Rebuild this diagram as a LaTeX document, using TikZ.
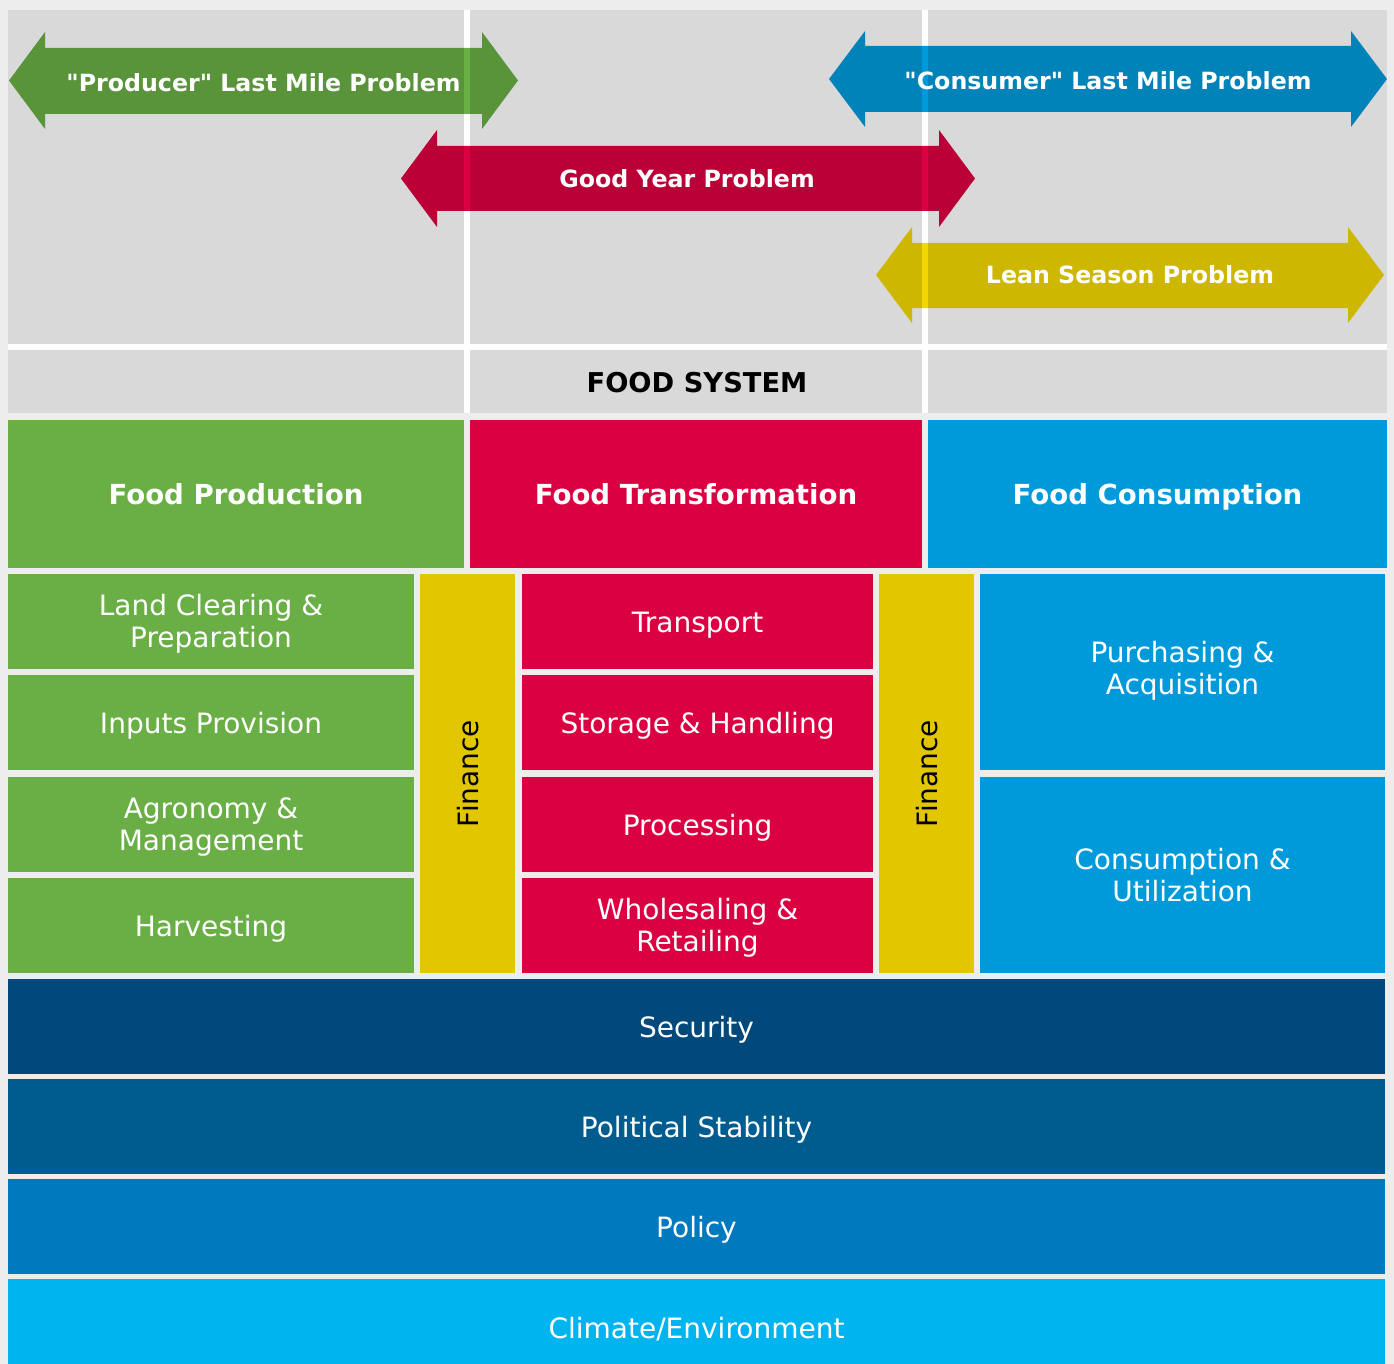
\documentclass[tikz,border=0pt]{standalone}
\usepackage{fontspec}
\setmainfont{DejaVu Sans}
\usepackage{xcolor}

\definecolor{bggray}{HTML}{EDEDED}
\definecolor{panelgray}{HTML}{D9D9D9}
\definecolor{prodgreen}{HTML}{69AF46}
\definecolor{transred}{HTML}{DB0041}
\definecolor{consblue}{HTML}{009ADA}
\definecolor{finyellow}{HTML}{E2C700}
\definecolor{leanyellow}{HTML}{F3D800}
\definecolor{secblue}{HTML}{00497A}
\definecolor{polblue}{HTML}{005B8F}
\definecolor{policyblue}{HTML}{0079BE}
\definecolor{climblue}{HTML}{00B4EF}

\begin{document}
\begin{tikzpicture}[x=1pt, y=-1pt,
  cell/.style={inner sep=0pt, align=center, text=white, font=\fontsize{28}{32}\selectfont,
    text height=21pt, text depth=0pt},
  twoline/.style={cell, text height=53pt, text depth=1pt},
  head/.style={cell, font=\bfseries\fontsize{27.6}{32}\selectfont},
  problem/.style={inner sep=0pt, text=white, font=\bfseries\fontsize{23.7}{28}\selectfont}]
\useasboundingbox (0,0) rectangle (1394,1364);
\fill[bggray] (0,0) rectangle (1394,1364);

% Grey panel with white dividers
\fill[panelgray] (8,10) rectangle (1387,413);
\fill[white] (8,344) rectangle (1387,350);
\fill[white] (464,10) rectangle (470,413);
\fill[white] (922,10) rectangle (928,413);

% Problem arrows
\begin{scope}[blend mode=multiply]
\fill[prodgreen] (9,80.5) -- (45,32) -- (45,48) -- (482,48) -- (482,32) -- (518,80.5)
  -- (482,129) -- (482,114) -- (45,114) -- (45,129) -- cycle;
\fill[transred] (401,178.5) -- (437,130) -- (437,146) -- (939,146) -- (939,130) -- (975,178.5)
  -- (939,227) -- (939,211) -- (437,211) -- (437,227) -- cycle;
\fill[consblue] (829,79) -- (865,31) -- (865,46) -- (1351,46) -- (1351,31) -- (1387,79)
  -- (1351,127) -- (1351,112) -- (865,112) -- (865,127) -- cycle;
\fill[leanyellow] (876,275) -- (912,227) -- (912,243) -- (1348,243) -- (1348,227) -- (1384,275)
  -- (1348,323) -- (1348,308) -- (912,308) -- (912,323) -- cycle;
\end{scope}
\node[problem] (prodmile) at (263.5,83) {\textquotedbl Producer\textquotedbl{} Last Mile Problem};
\node[problem] (goodyear) at (687,179) {Good Year Problem};
\node[problem] (consmile) at (1108,81) {\textquotedbl Consumer\textquotedbl{} Last Mile Problem};
\node[problem] (lean) at (1130,275) {Lean Season Problem};

\node[cell, text=black, font=\bfseries\fontsize{27.3}{30}\selectfont] (foodsys) at (697,381.5) {FOOD SYSTEM};

% Stages of the food system
\node[head, fill=prodgreen, minimum width=456, minimum height=148] (prod) at (236,494) {Food Production};
\node[head, fill=transred, minimum width=452, minimum height=148] (trans) at (696,494) {Food Transformation};
\node[head, fill=consblue, minimum width=459, minimum height=148] (cons) at (1157.5,494) {Food Consumption};

% Production steps
\node[twoline, fill=prodgreen, minimum width=406, minimum height=95] (land) at (211,621.5) {Land Clearing \&\\Preparation};
\node[cell, fill=prodgreen, minimum width=406, minimum height=95] (inputs) at (211,722.5) {Inputs Provision};
\node[twoline, fill=prodgreen, minimum width=406, minimum height=95] (agro) at (211,824.5) {Agronomy \&\\Management};
\node[cell, fill=prodgreen, minimum width=406, minimum height=95] (harvest) at (211,925.5) {Harvesting};

% Finance columns
\node[cell, text=black, fill=finyellow, rotate=90, minimum width=399, minimum height=95] (finleft) at (467.5,773.5) {Finance};
\node[cell, text=black, fill=finyellow, rotate=90, minimum width=399, minimum height=95] (finright) at (926.5,773.5) {Finance};

% Transformation steps
\node[cell, fill=transred, minimum width=351, minimum height=95] (transport) at (697.5,621.5) {Transport};
\node[cell, fill=transred, minimum width=351, minimum height=95] (storage) at (697.5,722.5) {Storage \& Handling};
\node[cell, fill=transred, minimum width=351, minimum height=95] (process) at (697.5,824.5) {Processing};
\node[twoline, fill=transred, minimum width=351, minimum height=95] (retail) at (697.5,925.5) {Wholesaling \&\\Retailing};

% Consumption steps
\node[twoline, text depth=9pt, fill=consblue, minimum width=405, minimum height=196] (purchase) at (1182.5,672) {Purchasing \&\\Acquisition};
\node[twoline, fill=consblue, minimum width=405, minimum height=196] (consume) at (1182.5,875) {Consumption \&\\Utilization};

% Enabling layers
\node[cell, fill=secblue, minimum width=1377, minimum height=95] (security) at (696.5,1026.5) {Security};
\node[cell, fill=polblue, minimum width=1377, minimum height=95] (political) at (696.5,1126.5) {Political Stability};
\node[cell, fill=policyblue, minimum width=1377, minimum height=95] (policy) at (696.5,1226.5) {Policy};
\fill[climblue] (8,1279) rectangle (1385,1364);
\node[cell] (climate) at (696.5,1328) {Climate/Environment};
\end{tikzpicture}
\end{document}
